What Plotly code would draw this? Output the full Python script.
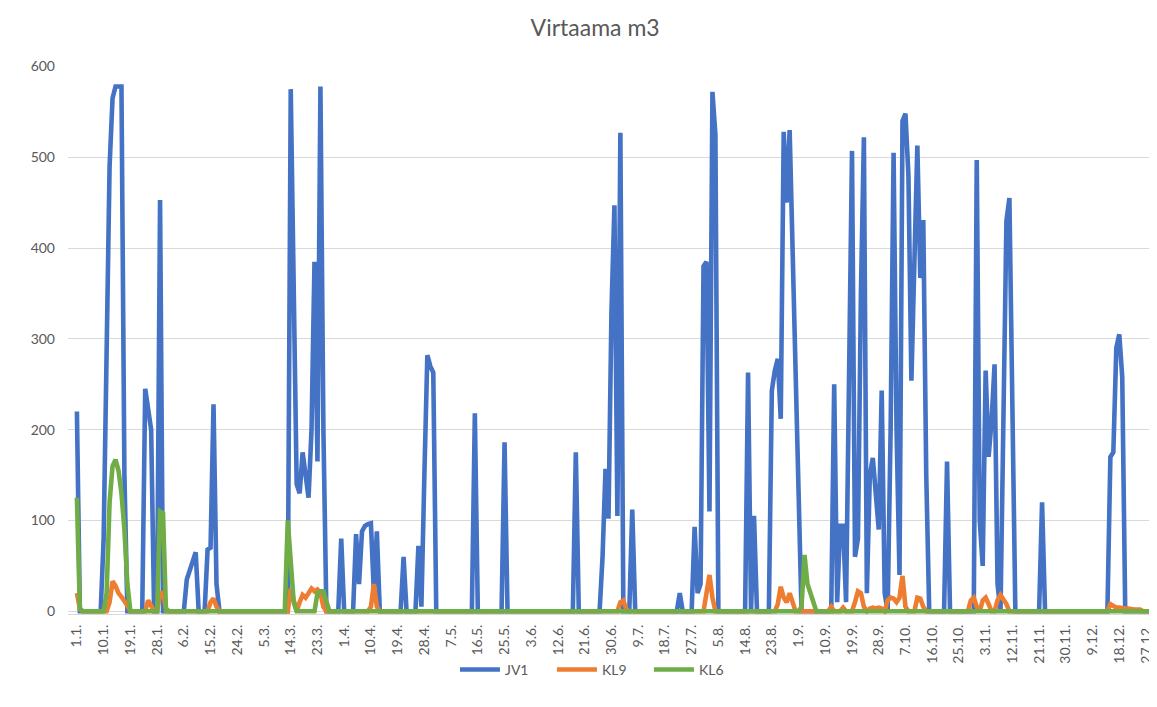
import plotly.graph_objects as go

# ---- data: daily values, one list per month (non-leap year) ----
jv1_jan = [220,0,0,0,0,0,0,0,0,80,330,490,565,578,578,578,150,0,0,0,0,0,0,245,225,200,0,0,453,0,0]
jv1_feb = [0,0,0,0,0,0,35,45,55,65,0,0,0,68,70,228,30,0,0,0,0,0,0,0,0,0,0,0]
jv1_mar = [0,0,0,0,0,0,0,0,0,0,0,0,0,575,350,140,130,175,150,125,200,385,165,578,200,0,0,0,0,0,80]
jv1_apr = [0,0,0,0,85,30,88,94,96,97,20,88,0,0,0,0,0,0,0,0,60,0,0,0,0,72,5,150,282,270]
jv1_may = [263,0,0,0,0,0,0,0,0,0,0,0,0,0,218,0,0,0,0,0,0,0,0,0,186,0,0,0,0,0,0]
jv1_jun = [0,0,0,0,0,0,0,0,0,0,0,0,0,0,0,0,0,175,0,0,0,0,0,0,0,0,60,157,102,330]
jv1_jul = [447,105,527,0,0,0,112,0,0,0,0,0,0,0,0,0,0,0,0,0,0,0,20,0,0,0,0,93,20,30,380]
jv1_aug = [385,110,572,525,0,0,0,0,0,0,0,0,0,0,263,0,105,0,0,0,0,0,243,265,278,212,528,450,530,400,270]
jv1_sep = [130,0,0,0,0,0,0,0,0,0,0,0,250,10,94,94,10,250,507,60,80,350,522,20,150,169,131,90,243,20]
jv1_oct = [0,200,505,200,40,540,548,480,254,380,513,367,431,150,0,0,0,0,0,0,165,0,0,0,0,0,0,0,0,0,497]
jv1_nov = [100,50,265,170,210,272,30,0,250,430,455,200,0,0,0,0,0,0,0,0,0,120,0,0,0,0,0,0,0,0]
jv1_dec = [0,0,0,0,0,0,0,0,0,0,0,0,0,0,170,175,290,305,258,0,0,0,0,0,0,0,0,0,0,0,0]

kl9_jan = [20,3,0,0,0,0,0,0,0,0,0,10,33,28,20,16,12,6,0,0,0,0,0,0,12,5,0,0,20,20,3]
kl9_feb = [0,0,0,0,0,0,0,0,0,0,0,0,0,0,10,14,5,0,0,0,0,0,0,0,0,0,0,0]
kl9_mar = [0,0,0,0,0,0,0,0,0,0,0,0,0,25,10,0,10,18,15,20,25,22,24,20,5,0,0,0,0,0,0]
kl9_apr = [0,0,0,0,0,0,0,0,0,5,30,5,0,0,0,0,0,0,0,0,0,0,0,0,0,0,0,0,0,0]
kl9_may = [0,0,0,0,0,0,0,0,0,0,0,0,0,0,0,0,0,0,0,0,0,0,0,0,0,0,0,0,0,0,0]
kl9_jun = [0,0,0,0,0,0,0,0,0,0,0,0,0,0,0,0,0,0,0,0,0,0,0,0,0,0,0,0,0,0]
kl9_jul = [0,0,10,12,2,0,0,0,0,0,0,0,0,0,0,0,0,0,0,0,0,0,0,0,0,0,0,0,0,0,0]
kl9_aug = [20,40,15,0,0,0,0,0,0,0,0,0,0,0,0,0,0,0,0,0,0,0,0,0,8,27,15,10,20,8,0]
kl9_sep = [0,0,0,0,0,0,0,0,0,0,0,5,0,0,0,4,0,0,0,10,22,20,5,0,3,4,3,4,3,0]
kl9_oct = [12,15,14,10,15,39,5,0,0,0,15,14,5,0,0,0,0,0,0,0,0,0,0,0,0,0,0,0,12,15,5]
kl9_nov = [0,12,15,8,0,0,12,18,14,8,0,0,0,0,0,0,0,0,0,0,0,0,0,0,0,0,0,0,0,0]
kl9_dec = [0,0,0,0,0,0,0,0,0,0,0,0,0,0,8,6,4,4,3,3,3,2,2,2,2,0,0,0,0,0,0]

kl6_jan = [125,2,0,0,0,0,0,0,0,0,20,120,160,167,155,130,90,30,0,0,0,0,0,0,0,0,0,0,110,108,0]
kl6_feb = [0]*28
kl6_mar = [0,0,0,0,0,0,0,0,0,0,0,0,100,50,10,0,0,0,0,0,0,0,20,22,22,10,0,0,0,0,0]
kl6_apr = [0]*30
kl6_may = [0]*31
kl6_jun = [0]*30
kl6_jul = [0]*31
kl6_aug = [0]*31
kl6_sep = [0,5,62,30,20,10,0,0,0,0,0,0,0,0,0,0,0,0,0,0,0,0,0,0,0,0,0,0,0,0]
kl6_oct = [0]*31
kl6_nov = [0]*30
kl6_dec = [0]*31

tick_labels = ["1.1.","10.1.","19.1.","28.1.","6.2.","15.2.","24.2.","5.3.","14.3.","23.3.",
               "1.4.","10.4.","19.4.","28.4.","7.5.","16.5.","25.5.","3.6.","12.6.","21.6.",
               "30.6.","9.7.","18.7.","27.7.","5.8.","14.8.","23.8.","1.9.","10.9.","19.9.",
               "28.9.","7.10.","16.10.","25.10.","3.11.","12.11.","21.11.","30.11.","9.12.",
               "18.12.","27.12."]
tick_step = 9

jv1 = jv1_jan + jv1_feb + jv1_mar + jv1_apr + jv1_may + jv1_jun + jv1_jul + jv1_aug + jv1_sep + jv1_oct + jv1_nov + jv1_dec
kl9 = kl9_jan + kl9_feb + kl9_mar + kl9_apr + kl9_may + kl9_jun + kl9_jul + kl9_aug + kl9_sep + kl9_oct + kl9_nov + kl9_dec
kl6 = kl6_jan + kl6_feb + kl6_mar + kl6_apr + kl6_may + kl6_jun + kl6_jul + kl6_aug + kl6_sep + kl6_oct + kl6_nov + kl6_dec
days = list(range(len(jv1)))

FONT = "Lato, 'Open Sans', sans-serif"
W, H = 1149, 699   # page body has an 8px default margin
fig = go.Figure()
for name, vals, col in [("JV1", jv1, "#4472C4"), ("KL9", kl9, "#ED7D31"), ("KL6", kl6, "#70AD47")]:
    fig.add_trace(go.Scatter(x=days, y=vals, mode="lines", name=name,
                             line=dict(color=col, width=4.6), hoverinfo="x+y"))

fig.update_layout(
    width=W, height=H,
    paper_bgcolor="white", plot_bgcolor="white",
    margin=dict(l=60, r=0, t=58, b=93, autoexpand=False),
    title=dict(text="Virtaama m3", x=0.511, xref="container", xanchor="center",
               y=0.9714, yref="container", yanchor="middle", automargin=False,
               font=dict(family=FONT, size=23, color="#595959")),
    font=dict(family=FONT, color="#595959"),
    showlegend=True,
    legend=dict(orientation="h", x=0.389, xanchor="left", xref="container",
                y=0.053, yref="container", yanchor="middle",
                font=dict(family=FONT, size=14, color="#595959"),
                itemwidth=40, entrywidth=42, entrywidthmode="pixels",
                tracegroupgap=0),
)
fig.update_xaxes(
    range=[-3.0, 363.7], automargin=False,
    tickmode="array",
    tickvals=[i * tick_step for i in range(len(tick_labels))],
    ticktext=tick_labels,
    tickangle=-90,
    tickfont=dict(family=FONT, size=14, color="#595959"),
    showgrid=False, zeroline=False,
    showline=True, linecolor="#D9D9D9", linewidth=1,
    ticks="", ticklabelstandoff=4,
)
fig.update_yaxes(
    range=[-3, 600.5], automargin=False,
    tickmode="array", tickvals=[0, 100, 200, 300, 400, 500, 600],
    tickfont=dict(family=FONT, size=14, color="#595959"),
    showgrid=True, gridcolor="#D9D9D9", gridwidth=1,
    zeroline=False, showline=False, ticks="", ticklabelstandoff=12,
)

fig.write_html("out.html")
